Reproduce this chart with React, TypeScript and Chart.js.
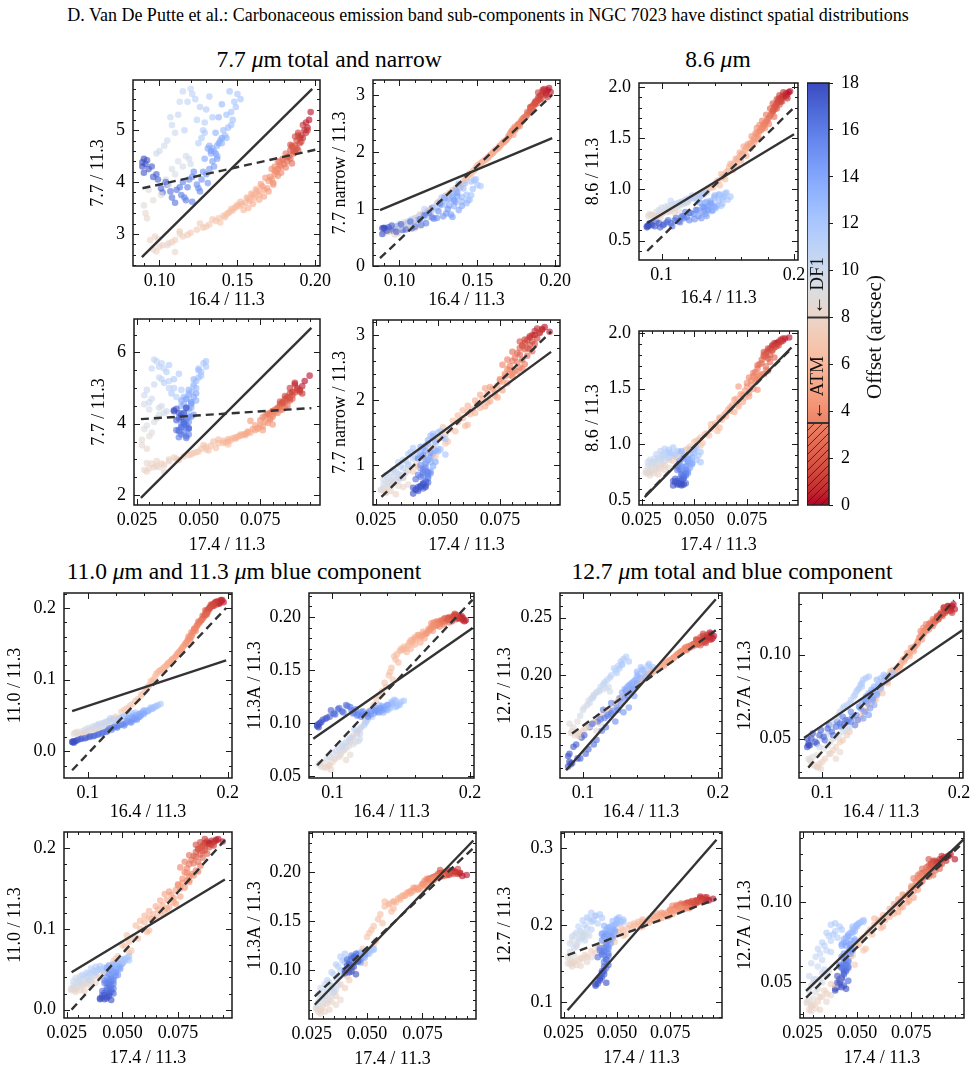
import React, { useEffect, useRef } from 'react';
import { Chart, registerables } from 'chart.js';

Chart.register(...registerables);

const SERIF = "'Liberation Serif', 'Times New Roman', Times, serif";
Chart.defaults.font.family = SERIF;

// ---------------------------------------------------------------------------
// Per-pixel band ratios along the cut, ordered by offset from the ridge (arcsec).
// Two interleaved pixel rows of the slit are listed one after the other.
// ---------------------------------------------------------------------------
const OFFSET = [
  0.2, 0.3, 0.5, 0.6, 0.8, 0.9, 1.0, 1.2, 1.3, 1.4, 1.6, 1.7, 1.8, 1.9,
  2.1, 2.2, 2.4, 2.5, 2.7, 2.8, 3.0, 3.1, 3.3, 3.4, 3.5, 3.6, 3.8, 3.9,
  4.1, 4.2, 4.3, 4.4, 4.6, 4.7, 4.8, 5.0, 5.1, 5.2, 5.3, 5.4, 5.5, 5.7, 5.8, 5.9,
  6.1, 6.2, 6.3, 6.4, 6.6, 6.7, 6.8, 6.9, 7.0, 7.1, 7.2, 7.4, 7.5, 7.6, 7.8, 7.9,
  8.1, 8.2, 8.3, 8.5, 8.6, 8.8, 9.0, 9.2, 9.4, 9.5, 9.7, 9.9,
  10.1, 10.3, 10.4, 10.6, 10.7, 10.9, 11.0, 11.2, 11.3, 11.5, 11.7, 11.9,
  12.1, 12.3, 12.4, 12.6, 12.7, 12.9, 13.0, 13.2, 13.3, 13.5, 13.7, 13.9,
  14.1, 14.3, 14.5, 14.7, 14.9, 15.1, 15.3, 15.5, 15.7, 15.9,
  16.1, 16.3, 16.5, 16.7, 16.9, 17.1, 17.3, 17.5, 17.7, 17.9,
  // second row
  0.1, 0.4, 0.7, 0.9, 1.1, 1.3, 1.5, 1.6, 1.8, 1.9,
  2.0, 2.3, 2.6, 2.9, 3.2, 3.4, 3.5, 3.7, 3.8, 3.9,
  4.0, 4.2, 4.4, 4.5, 4.7, 4.9, 5.0, 5.2, 5.3, 5.5, 5.6, 5.7, 5.8, 5.9,
  6.0, 6.2, 6.3, 6.5, 6.6, 6.8, 6.9, 7.0, 7.1, 7.3, 7.4, 7.6, 7.7, 7.9,
  8.0, 8.2, 8.4, 8.7, 8.9, 9.1, 9.3, 9.6, 9.8, 9.9,
  10.0, 10.2, 10.4, 10.5, 10.8, 11.0, 11.1, 11.3, 11.4, 11.6, 11.8, 11.9,
  12.0, 12.2, 12.3, 12.5, 12.6, 12.8, 12.9, 13.1, 13.2, 13.4, 13.5, 13.6, 13.8, 13.9,
  14.0, 14.2, 14.4, 14.6, 14.8, 15.0, 15.2, 15.3, 15.5, 15.6, 15.8, 15.9,
  16.0, 16.2, 16.4, 16.6, 16.8, 17.0, 17.2, 17.4, 17.5, 17.6, 17.8, 18.0,
];

const R164 = [
  0.197, 0.195, 0.193, 0.194, 0.192, 0.191, 0.190, 0.189, 0.190, 0.188, 0.187, 0.188, 0.186, 0.185,
  0.186, 0.185, 0.184, 0.183, 0.182, 0.181, 0.180, 0.179, 0.178, 0.177, 0.176, 0.177, 0.175, 0.174,
  0.174, 0.172, 0.173, 0.170, 0.169, 0.167, 0.166, 0.164, 0.163, 0.161, 0.160, 0.158, 0.157, 0.155, 0.153, 0.151,
  0.149, 0.147, 0.146, 0.143, 0.141, 0.138, 0.136, 0.132, 0.128, 0.124, 0.120, 0.115, 0.110, 0.106, 0.100, 0.096,
  0.094, 0.110, 0.099, 0.113, 0.091, 0.096, 0.093, 0.104, 0.108, 0.112, 0.117, 0.120,
  0.100, 0.105, 0.108, 0.112, 0.115, 0.118, 0.121, 0.124, 0.126, 0.128, 0.130, 0.127,
  0.150, 0.148, 0.146, 0.147, 0.144, 0.142, 0.140, 0.139, 0.137, 0.135, 0.133, 0.131,
  0.138, 0.136, 0.134, 0.132, 0.130, 0.127, 0.124, 0.121, 0.118, 0.115,
  0.114, 0.111, 0.108, 0.105, 0.102, 0.099, 0.096, 0.093, 0.091, 0.089,
  0.196, 0.194, 0.192, 0.195, 0.189, 0.191, 0.187, 0.189, 0.184, 0.187,
  0.184, 0.182, 0.185, 0.179, 0.181, 0.176, 0.178, 0.174, 0.176, 0.172,
  0.171, 0.173, 0.168, 0.170, 0.165, 0.167, 0.162, 0.164, 0.159, 0.160, 0.156, 0.157, 0.152, 0.154,
  0.150, 0.145, 0.148, 0.142, 0.144, 0.139, 0.134, 0.130, 0.126, 0.118, 0.113, 0.108, 0.102, 0.098,
  0.097, 0.092, 0.105, 0.090, 0.101, 0.106, 0.110, 0.115, 0.119, 0.098,
  0.103, 0.110, 0.113, 0.107, 0.120, 0.116, 0.123, 0.129, 0.125, 0.132, 0.129, 0.134,
  0.152, 0.149, 0.145, 0.146, 0.143, 0.141, 0.143, 0.138, 0.140, 0.136, 0.134, 0.137, 0.132, 0.129,
  0.140, 0.137, 0.133, 0.135, 0.128, 0.131, 0.125, 0.122, 0.126, 0.119, 0.116, 0.121,
  0.117, 0.113, 0.110, 0.107, 0.104, 0.101, 0.098, 0.095, 0.092, 0.090, 0.089, 0.090,
];

const R174 = [
  0.095, 0.092, 0.090, 0.091, 0.089, 0.088, 0.087, 0.090, 0.086, 0.088, 0.085, 0.087, 0.084, 0.086,
  0.083, 0.088, 0.082, 0.086, 0.081, 0.084, 0.080, 0.085, 0.079, 0.083, 0.078, 0.081, 0.080, 0.077,
  0.079, 0.077, 0.075, 0.078, 0.074, 0.072, 0.076, 0.070, 0.073, 0.068, 0.071, 0.066, 0.069, 0.064, 0.062, 0.063,
  0.060, 0.058, 0.061, 0.055, 0.053, 0.051, 0.054, 0.048, 0.046, 0.044, 0.041, 0.038, 0.035, 0.033, 0.030, 0.028,
  0.031, 0.036, 0.029, 0.038, 0.027, 0.030, 0.028, 0.032, 0.034, 0.030, 0.035, 0.037,
  0.030, 0.028, 0.032, 0.034, 0.033, 0.036, 0.035, 0.038, 0.037, 0.040, 0.042, 0.039,
  0.052, 0.050, 0.051, 0.049, 0.048, 0.047, 0.050, 0.046, 0.045, 0.047, 0.044, 0.043,
  0.048, 0.047, 0.046, 0.048, 0.045, 0.046, 0.044, 0.045, 0.043, 0.044,
  0.044, 0.046, 0.043, 0.045, 0.042, 0.044, 0.041, 0.043, 0.040, 0.042,
  0.093, 0.089, 0.092, 0.087, 0.091, 0.085, 0.089, 0.083, 0.087, 0.084,
  0.085, 0.083, 0.080, 0.082, 0.078, 0.084, 0.076, 0.082, 0.079, 0.080,
  0.075, 0.080, 0.071, 0.076, 0.073, 0.069, 0.074, 0.067, 0.070, 0.065, 0.067, 0.062, 0.065, 0.060,
  0.058, 0.062, 0.056, 0.057, 0.052, 0.050, 0.053, 0.047, 0.049, 0.042, 0.040, 0.036, 0.032, 0.029,
  0.033, 0.029, 0.034, 0.027, 0.031, 0.029, 0.033, 0.036, 0.034, 0.028,
  0.031, 0.029, 0.031, 0.035, 0.032, 0.038, 0.034, 0.036, 0.041, 0.038, 0.043, 0.040,
  0.053, 0.051, 0.053, 0.048, 0.050, 0.049, 0.046, 0.048, 0.044, 0.046, 0.049, 0.043, 0.045, 0.047,
  0.049, 0.045, 0.047, 0.044, 0.047, 0.043, 0.045, 0.046, 0.042, 0.044, 0.046, 0.042,
  0.045, 0.043, 0.045, 0.041, 0.044, 0.046, 0.042, 0.044, 0.041, 0.043, 0.040, 0.045,
];

const R77 = [
  5.35, 5.05, 5.00, 4.95, 5.10, 4.90, 4.85, 4.95, 4.75, 4.80, 4.70, 4.65, 4.60, 4.68,
  4.55, 4.70, 4.45, 4.50, 4.40, 4.55, 4.35, 4.45, 4.30, 4.38, 4.25, 4.32, 4.20, 4.22,
  4.15, 4.05, 3.95, 4.02, 3.88, 3.85, 3.92, 3.76, 3.82, 3.70, 3.75, 3.64, 3.68, 3.60, 3.57, 3.54,
  3.52, 3.45, 3.48, 3.38, 3.35, 3.30, 3.25, 3.18, 3.12, 3.08, 3.02, 2.95, 2.88, 2.82, 2.75, 2.70,
  2.88, 2.65, 2.90, 3.00, 3.40, 3.65, 3.85, 4.05, 4.25, 4.40, 4.50, 4.35,
  4.60, 4.80, 5.10, 5.30, 5.75, 5.55, 5.70, 5.20, 5.45, 5.00, 5.40, 4.85,
  5.70, 5.55, 5.35, 5.20, 5.05, 4.90, 5.50, 4.80, 4.70, 4.60, 4.55, 4.65,
  4.75, 4.55, 4.40, 4.25, 4.15, 4.05, 3.95, 4.10, 3.90, 4.00,
  3.75, 3.85, 3.70, 3.95, 3.80, 4.05, 4.10, 4.25, 4.35, 4.30,
  5.20, 5.15, 4.85, 5.00, 4.90, 4.78, 4.88, 4.62, 4.72, 4.58,
  4.62, 4.48, 4.36, 4.42, 4.28, 4.40, 4.18, 4.30, 4.12, 4.25,
  4.10, 3.98, 4.08, 3.82, 3.96, 3.72, 3.86, 3.66, 3.78, 3.58, 3.70, 3.50, 3.62, 3.46,
  3.56, 3.42, 3.50, 3.32, 3.40, 3.22, 3.28, 3.14, 3.20, 2.98, 3.05, 2.84, 2.78, 2.66,
  2.95, 3.30, 2.78, 3.55, 3.75, 3.95, 4.15, 4.30, 4.45, 4.55,
  4.70, 4.95, 5.55, 5.25, 5.80, 5.00, 5.60, 5.15, 4.75, 5.65, 4.95, 5.25,
  5.60, 5.45, 5.75, 5.10, 5.30, 5.00, 4.85, 5.25, 4.75, 4.95, 4.65, 4.50, 4.70, 4.45,
  4.85, 4.45, 4.60, 4.30, 4.20, 3.98, 3.88, 4.20, 3.82, 4.05, 3.70, 3.62,
  3.65, 3.90, 3.60, 3.82, 4.00, 3.88, 4.15, 4.30, 4.42, 4.18, 4.38, 4.45,
];

const R77N = [
  3.05, 3.08, 3.10, 3.03, 3.06, 3.00, 2.98, 2.95, 2.92, 2.90, 2.88, 2.85, 2.83, 2.80,
  2.80, 2.75, 2.72, 2.68, 2.65, 2.62, 2.60, 2.55, 2.52, 2.50, 2.47, 2.45, 2.42, 2.40,
  2.38, 2.36, 2.30, 2.26, 2.22, 2.17, 2.15, 2.10, 2.06, 2.02, 1.98, 1.94, 1.90, 1.86, 1.82, 1.78,
  1.72, 1.66, 1.60, 1.55, 1.48, 1.42, 1.36, 1.28, 1.18, 1.10, 1.00, 0.92, 0.84, 0.76, 0.68, 0.62,
  0.60, 0.66, 0.57, 0.70, 0.62, 0.66, 0.64, 0.72, 0.76, 0.80, 0.84, 0.88,
  0.74, 0.78, 0.82, 0.86, 0.90, 0.95, 0.98, 1.02, 1.06, 1.10, 1.15, 1.20,
  1.42, 1.50, 1.24, 1.35, 1.15, 1.45, 1.21, 1.38, 1.30, 1.05, 1.27, 1.18,
  0.98, 1.12, 0.86, 1.18, 0.92, 1.08, 0.84, 1.02, 0.95, 0.88,
  0.72, 0.80, 0.66, 0.74, 0.63, 0.70, 0.62, 0.68, 0.65, 0.66,
  3.12, 3.00, 3.09, 2.96, 3.04, 2.93, 2.86, 2.90, 2.78, 2.84,
  2.78, 2.70, 2.74, 2.58, 2.62, 2.48, 2.54, 2.44, 2.46, 2.36,
  2.32, 2.40, 2.20, 2.28, 2.12, 2.18, 2.04, 2.08, 1.96, 1.99, 1.88, 1.91, 1.80, 1.84,
  1.76, 1.62, 1.68, 1.52, 1.58, 1.40, 1.33, 1.24, 1.14, 0.97, 0.90, 0.80, 0.72, 0.58,
  0.55, 0.59, 0.68, 0.61, 0.69, 0.74, 0.78, 0.82, 0.86, 0.70,
  0.76, 0.84, 0.88, 0.80, 0.93, 1.00, 1.04, 1.08, 1.12, 1.17, 1.22, 1.26,
  1.40, 1.52, 1.16, 1.48, 1.25, 1.36, 1.10, 1.44, 1.13, 1.33, 1.22, 1.28, 1.06, 1.19,
  1.05, 1.22, 0.90, 1.15, 0.87, 1.00, 0.96, 0.83, 1.10, 0.93, 0.89, 0.85,
  0.75, 0.82, 0.69, 0.78, 0.64, 0.73, 0.60, 0.71, 0.62, 0.67, 0.56, 0.66,
];

const R86 = [
  1.96, 1.93, 1.92, 1.94, 1.90, 1.91, 1.88, 1.89, 1.86, 1.87, 1.84, 1.85, 1.82, 1.80,
  1.80, 1.78, 1.76, 1.74, 1.72, 1.70, 1.68, 1.66, 1.65, 1.63, 1.61, 1.62, 1.58, 1.57,
  1.57, 1.54, 1.52, 1.50, 1.48, 1.45, 1.43, 1.41, 1.38, 1.35, 1.34, 1.31, 1.29, 1.26, 1.24, 1.22,
  1.17, 1.14, 1.12, 1.09, 1.06, 1.03, 1.01, 0.98, 0.95, 0.92, 0.89, 0.86, 0.82, 0.79, 0.76, 0.74,
  0.74, 0.77, 0.72, 0.79, 0.76, 0.78, 0.75, 0.80, 0.82, 0.84, 0.86, 0.88,
  0.82, 0.84, 0.85, 0.86, 0.88, 0.90, 0.91, 0.92, 0.93, 0.90, 0.94, 0.92,
  0.90, 0.96, 0.86, 0.93, 0.95, 0.84, 0.92, 0.80, 0.89, 0.83, 0.87, 0.78,
  0.79, 0.85, 0.74, 0.82, 0.72, 0.80, 0.76, 0.70, 0.78, 0.73,
  0.68, 0.72, 0.64, 0.70, 0.66, 0.63, 0.69, 0.65, 0.67, 0.64,
  1.95, 1.91, 1.95, 1.89, 1.92, 1.86, 1.88, 1.83, 1.84, 1.79,
  1.77, 1.79, 1.71, 1.73, 1.64, 1.67, 1.60, 1.63, 1.59, 1.60,
  1.55, 1.49, 1.52, 1.46, 1.44, 1.40, 1.42, 1.33, 1.36, 1.28, 1.30, 1.23, 1.25, 1.19,
  1.18, 1.15, 1.10, 1.08, 1.04, 1.02, 0.99, 0.96, 0.94, 0.88, 0.85, 0.81, 0.78, 0.75,
  0.73, 0.75, 0.78, 0.74, 0.77, 0.81, 0.83, 0.85, 0.87, 0.80,
  0.83, 0.86, 0.87, 0.89, 0.91, 0.88, 0.94, 0.96, 0.91, 0.95, 0.93, 0.97,
  0.93, 0.97, 0.84, 0.91, 0.95, 0.82, 0.89, 0.86, 0.94, 0.80, 0.88, 0.85, 0.79, 0.87,
  0.83, 0.87, 0.76, 0.80, 0.74, 0.83, 0.71, 0.77, 0.80, 0.73, 0.74, 0.77,
  0.72, 0.69, 0.70, 0.67, 0.68, 0.65, 0.67, 0.64, 0.66, 0.65, 0.63, 0.64,
];

const R110 = [
  0.208, 0.210, 0.209, 0.207, 0.205, 0.208, 0.206, 0.204, 0.203, 0.205, 0.200, 0.202, 0.198, 0.196,
  0.195, 0.193, 0.190, 0.188, 0.185, 0.183, 0.180, 0.178, 0.175, 0.172, 0.170, 0.168, 0.165, 0.162,
  0.160, 0.157, 0.155, 0.151, 0.148, 0.142, 0.140, 0.136, 0.133, 0.129, 0.127, 0.124, 0.121, 0.118, 0.114, 0.112,
  0.108, 0.100, 0.096, 0.090, 0.084, 0.078, 0.073, 0.066, 0.060, 0.055, 0.048, 0.042, 0.037, 0.032, 0.028, 0.025,
  0.024, 0.030, 0.022, 0.033, 0.026, 0.028, 0.027, 0.031, 0.034, 0.036, 0.039, 0.041,
  0.032, 0.035, 0.038, 0.040, 0.042, 0.044, 0.045, 0.047, 0.048, 0.050, 0.052, 0.049,
  0.064, 0.062, 0.060, 0.061, 0.058, 0.056, 0.057, 0.054, 0.052, 0.051, 0.049, 0.047,
  0.050, 0.047, 0.045, 0.043, 0.041, 0.039, 0.037, 0.035, 0.033, 0.031,
  0.028, 0.026, 0.024, 0.022, 0.021, 0.019, 0.018, 0.016, 0.014, 0.013,
  0.211, 0.206, 0.209, 0.211, 0.203, 0.207, 0.201, 0.204, 0.197, 0.199,
  0.192, 0.189, 0.191, 0.181, 0.183, 0.171, 0.176, 0.166, 0.169, 0.160,
  0.154, 0.158, 0.146, 0.150, 0.138, 0.143, 0.131, 0.135, 0.125, 0.128, 0.119, 0.122, 0.113, 0.116,
  0.110, 0.098, 0.104, 0.088, 0.092, 0.080, 0.070, 0.063, 0.058, 0.046, 0.040, 0.035, 0.030, 0.026,
  0.023, 0.025, 0.031, 0.024, 0.029, 0.032, 0.035, 0.038, 0.040, 0.030,
  0.034, 0.039, 0.041, 0.037, 0.043, 0.046, 0.046, 0.051, 0.048, 0.053, 0.050, 0.054,
  0.066, 0.063, 0.061, 0.059, 0.057, 0.055, 0.056, 0.053, 0.055, 0.050, 0.050, 0.052, 0.048, 0.046,
  0.052, 0.048, 0.046, 0.044, 0.042, 0.040, 0.038, 0.036, 0.036, 0.034, 0.032, 0.033,
  0.030, 0.027, 0.025, 0.023, 0.021, 0.020, 0.018, 0.017, 0.015, 0.014, 0.013, 0.012,
];

const R113A = [
  0.197, 0.199, 0.200, 0.198, 0.201, 0.199, 0.202, 0.200, 0.198, 0.201, 0.199, 0.200, 0.197, 0.198,
  0.199, 0.200, 0.198, 0.197, 0.196, 0.198, 0.195, 0.196, 0.194, 0.195, 0.193, 0.194, 0.192, 0.193,
  0.191, 0.190, 0.187, 0.189, 0.185, 0.184, 0.186, 0.181, 0.183, 0.179, 0.181, 0.176, 0.178, 0.173, 0.170, 0.169,
  0.168, 0.165, 0.160, 0.152, 0.145, 0.138, 0.130, 0.122, 0.112, 0.102, 0.094, 0.086, 0.078, 0.070, 0.063, 0.058,
  0.058, 0.065, 0.056, 0.070, 0.062, 0.066, 0.063, 0.070, 0.074, 0.078, 0.082, 0.085,
  0.072, 0.076, 0.080, 0.084, 0.088, 0.092, 0.096, 0.100, 0.104, 0.108, 0.112, 0.110,
  0.120, 0.118, 0.121, 0.116, 0.119, 0.114, 0.117, 0.113, 0.115, 0.111, 0.112, 0.110,
  0.115, 0.112, 0.110, 0.113, 0.109, 0.111, 0.108, 0.110, 0.107, 0.109,
  0.112, 0.116, 0.110, 0.114, 0.108, 0.112, 0.105, 0.103, 0.100, 0.098,
  0.196, 0.201, 0.199, 0.197, 0.203, 0.200, 0.198, 0.202, 0.199, 0.196,
  0.198, 0.199, 0.195, 0.197, 0.193, 0.196, 0.191, 0.195, 0.192, 0.194,
  0.188, 0.192, 0.184, 0.187, 0.182, 0.180, 0.183, 0.176, 0.179, 0.174, 0.176, 0.170, 0.172, 0.167,
  0.170, 0.163, 0.157, 0.148, 0.141, 0.134, 0.126, 0.117, 0.107, 0.090, 0.082, 0.074, 0.066, 0.060,
  0.060, 0.059, 0.068, 0.061, 0.067, 0.072, 0.076, 0.080, 0.083, 0.068,
  0.074, 0.082, 0.086, 0.078, 0.090, 0.094, 0.098, 0.106, 0.102, 0.114, 0.109, 0.117,
  0.121, 0.117, 0.122, 0.115, 0.120, 0.116, 0.118, 0.114, 0.112, 0.116, 0.113, 0.110, 0.114, 0.111,
  0.117, 0.113, 0.111, 0.114, 0.108, 0.112, 0.109, 0.111, 0.106, 0.108, 0.110, 0.106,
  0.113, 0.115, 0.117, 0.111, 0.113, 0.109, 0.106, 0.104, 0.101, 0.099, 0.097, 0.096,
];

const R127 = [
  0.234, 0.236, 0.233, 0.231, 0.235, 0.230, 0.232, 0.234, 0.229, 0.231, 0.230, 0.228, 0.229, 0.227,
  0.229, 0.230, 0.228, 0.226, 0.227, 0.225, 0.226, 0.224, 0.225, 0.223, 0.224, 0.222, 0.223, 0.221,
  0.221, 0.219, 0.220, 0.218, 0.217, 0.215, 0.214, 0.213, 0.212, 0.211, 0.209, 0.208, 0.207, 0.205, 0.204, 0.202,
  0.201, 0.199, 0.197, 0.196, 0.193, 0.190, 0.188, 0.184, 0.180, 0.176, 0.171, 0.166, 0.161, 0.157, 0.152, 0.149,
  0.148, 0.152, 0.146, 0.158, 0.150, 0.160, 0.155, 0.178, 0.183, 0.187, 0.189, 0.186,
  0.170, 0.176, 0.182, 0.186, 0.192, 0.196, 0.200, 0.204, 0.208, 0.212, 0.214, 0.206,
  0.205, 0.208, 0.202, 0.200, 0.205, 0.198, 0.203, 0.196, 0.194, 0.192, 0.190, 0.188,
  0.182, 0.190, 0.172, 0.186, 0.168, 0.180, 0.160, 0.176, 0.165, 0.170,
  0.152, 0.160, 0.140, 0.155, 0.132, 0.146, 0.128, 0.138, 0.123, 0.130,
  0.232, 0.237, 0.233, 0.231, 0.236, 0.228, 0.233, 0.229, 0.231, 0.226,
  0.231, 0.227, 0.228, 0.224, 0.226, 0.222, 0.225, 0.221, 0.224, 0.220,
  0.219, 0.221, 0.216, 0.218, 0.213, 0.215, 0.211, 0.212, 0.209, 0.208, 0.206, 0.207, 0.203, 0.204,
  0.202, 0.198, 0.200, 0.195, 0.196, 0.191, 0.186, 0.182, 0.178, 0.169, 0.164, 0.159, 0.154, 0.150,
  0.147, 0.152, 0.156, 0.158, 0.172, 0.180, 0.185, 0.188, 0.190, 0.165,
  0.174, 0.185, 0.190, 0.180, 0.198, 0.194, 0.206, 0.210, 0.202, 0.216, 0.209, 0.212,
  0.207, 0.210, 0.204, 0.199, 0.207, 0.201, 0.197, 0.195, 0.199, 0.193, 0.191, 0.189, 0.187, 0.185,
  0.193, 0.188, 0.182, 0.185, 0.176, 0.180, 0.172, 0.169, 0.170, 0.166, 0.163, 0.167,
  0.155, 0.162, 0.144, 0.158, 0.136, 0.148, 0.128, 0.140, 0.124, 0.132, 0.121, 0.125,
];

const R127A = [
  0.127, 0.129, 0.128, 0.126, 0.129, 0.127, 0.125, 0.128, 0.126, 0.124, 0.125, 0.123, 0.124, 0.122,
  0.123, 0.121, 0.122, 0.120, 0.119, 0.121, 0.118, 0.117, 0.118, 0.116, 0.115, 0.116, 0.114, 0.113,
  0.112, 0.111, 0.109, 0.108, 0.106, 0.104, 0.103, 0.101, 0.100, 0.098, 0.097, 0.095, 0.094, 0.092, 0.090, 0.089,
  0.088, 0.086, 0.084, 0.081, 0.078, 0.074, 0.071, 0.067, 0.063, 0.058, 0.054, 0.049, 0.045, 0.041, 0.036, 0.033,
  0.034, 0.038, 0.032, 0.042, 0.037, 0.040, 0.039, 0.046, 0.050, 0.052, 0.055, 0.057,
  0.050, 0.054, 0.060, 0.064, 0.068, 0.070, 0.073, 0.076, 0.079, 0.082, 0.085, 0.080,
  0.088, 0.086, 0.087, 0.084, 0.083, 0.081, 0.085, 0.079, 0.078, 0.076, 0.075, 0.073,
  0.070, 0.074, 0.064, 0.072, 0.062, 0.069, 0.058, 0.066, 0.060, 0.063,
  0.057, 0.060, 0.052, 0.058, 0.049, 0.055, 0.047, 0.053, 0.046, 0.050,
  0.130, 0.127, 0.129, 0.125, 0.128, 0.126, 0.124, 0.127, 0.123, 0.124,
  0.122, 0.120, 0.121, 0.119, 0.117, 0.118, 0.115, 0.116, 0.114, 0.114,
  0.110, 0.113, 0.105, 0.107, 0.104, 0.102, 0.101, 0.099, 0.097, 0.096, 0.093, 0.092, 0.091, 0.089,
  0.090, 0.085, 0.083, 0.080, 0.077, 0.073, 0.070, 0.066, 0.061, 0.052, 0.048, 0.043, 0.038, 0.035,
  0.033, 0.036, 0.041, 0.038, 0.044, 0.048, 0.051, 0.054, 0.056, 0.045,
  0.052, 0.062, 0.066, 0.058, 0.071, 0.069, 0.075, 0.081, 0.078, 0.086, 0.083, 0.087,
  0.089, 0.087, 0.088, 0.085, 0.086, 0.082, 0.080, 0.081, 0.077, 0.079, 0.077, 0.074, 0.075, 0.072,
  0.076, 0.073, 0.071, 0.068, 0.068, 0.066, 0.064, 0.063, 0.061, 0.061, 0.059, 0.060,
  0.061, 0.059, 0.057, 0.054, 0.056, 0.051, 0.052, 0.048, 0.050, 0.047, 0.045, 0.046,
];

// Linear fits per panel, [x0, y0, x1, y1]; panel order as in PANELS below
const SOLID_FITS = [
  [0.0887, 2.55, 0.198, 5.80],
  [0.0875, 0.98, 0.198, 2.24],
  [0.0892, 0.673, 0.2, 1.54],
  [0.0266, 1.92, 0.0957, 6.69],
  [0.0272, 0.82, 0.0956, 2.74],
  [0.0265, 0.525, 0.0961, 1.87],
  [0.0888, 0.056, 0.1988, 0.127],
  [0.0861, 0.0851, 0.202, 0.1896],
  [0.0875, 0.1177, 0.1984, 0.2659],
  [0.0867, 0.0504, 0.2025, 0.1145],
  [0.0272, 0.0463, 0.096, 0.161],
  [0.0264, 0.0651, 0.098, 0.2321],
  [0.0269, 0.0892, 0.0966, 0.3108],
  [0.0266, 0.0448, 0.0989, 0.1392],
];

const DASHED_FITS = [
  [0.0891, 3.88, 0.2025, 4.64],
  [0.0875, 0.136, 0.198, 3.0],
  [0.0892, 0.399, 0.2, 1.80],
  [0.0266, 4.13, 0.0957, 4.44],
  [0.0272, 0.51, 0.0956, 3.05],
  [0.027, 0.545, 0.0961, 1.86],
  [0.0888, -0.0266, 0.1988, 0.2],
  [0.089, 0.0601, 0.202, 0.2164],
  [0.0919, 0.1495, 0.1984, 0.239],
  [0.0898, 0.0327, 0.1964, 0.1323],
  [0.0272, 0.0, 0.096, 0.2097],
  [0.0264, 0.0736, 0.098, 0.2244],
  [0.0269, 0.1609, 0.0966, 0.2339],
  [0.0266, 0.0405, 0.0975, 0.1357],
];

// Tick values and labels
const X164_TICKS_FINE = [0.1, 0.15, 0.2];
const X164_LABELS_FINE = ['0.10', '0.15', '0.20'];
const X164_TICKS = [0.1, 0.2];
const X164_LABELS = ['0.1', '0.2'];
const X174_TICKS = [0.025, 0.05, 0.075];
const X174_LABELS = ['0.025', '0.050', '0.075'];

const Y_TICKS_77 = [3, 4, 5];
const Y_LABELS_77 = ['3', '4', '5'];
const Y_TICKS_77N = [0, 1, 2, 3];
const Y_LABELS_77N = ['0', '1', '2', '3'];
const Y_TICKS_86 = [0.5, 1.0, 1.5, 2.0];
const Y_LABELS_86 = ['0.5', '1.0', '1.5', '2.0'];
const Y_TICKS_77_B = [2, 4, 6];
const Y_LABELS_77_B = ['2', '4', '6'];
const Y_TICKS_77N_B = [1, 2, 3];
const Y_LABELS_77N_B = ['1', '2', '3'];
const Y_TICKS_110 = [0.0, 0.1, 0.2];
const Y_LABELS_110 = ['0.0', '0.1', '0.2'];
const Y_TICKS_113A = [0.05, 0.1, 0.15, 0.2];
const Y_LABELS_113A = ['0.05', '0.10', '0.15', '0.20'];
const Y_TICKS_113A_B = [0.1, 0.15, 0.2];
const Y_LABELS_113A_B = ['0.10', '0.15', '0.20'];
const Y_TICKS_127 = [0.15, 0.2, 0.25];
const Y_LABELS_127 = ['0.15', '0.20', '0.25'];
const Y_TICKS_127_B = [0.1, 0.2, 0.3];
const Y_LABELS_127_B = ['0.1', '0.2', '0.3'];
const Y_TICKS_127A = [0.05, 0.1];
const Y_LABELS_127A = ['0.05', '0.10'];

const CB_TICKS = [0, 2, 4, 6, 8, 10, 12, 14, 16, 18];
const CB_LABELS = ['0', '2', '4', '6', '8', '10', '12', '14', '16', '18'];
const ATM_EDGE = 3.5;
const DF1_EDGE = 8;

// ---------------------------------------------------------------------------
// Styling / layout
// ---------------------------------------------------------------------------
const FS = 18;
const LH = FS * 1.2;
const AX_L = 80;
const PAD_T = 16;
const PAD_R = 28;
const AX_B = 58;
const FIT_COLOR = '#333333';
const POINT_ALPHA = 0.62;

const X164_RANGE = [0.083, 0.203];
const X174_RANGE = [0.0238, 0.0992];

// coolwarm colour table (33 stops)
const COOLWARM = [
  [59, 76, 192], [68, 90, 204], [77, 104, 215], [87, 117, 225], [98, 130, 234],
  [108, 142, 241], [119, 154, 247], [130, 165, 251], [141, 176, 254], [152, 185, 255],
  [163, 194, 255], [174, 201, 253], [184, 208, 249], [194, 213, 244], [204, 217, 238],
  [213, 219, 230], [221, 221, 221], [229, 216, 209], [236, 211, 197], [241, 204, 184],
  [245, 196, 172], [247, 187, 160], [247, 177, 148], [247, 166, 135], [244, 154, 123],
  [241, 141, 111], [236, 127, 99], [229, 112, 88], [222, 96, 77], [213, 80, 66],
  [203, 62, 56], [192, 40, 47], [180, 4, 38],
];

function coolwarm(t: number) {
  const c = Math.min(1, Math.max(0, t)) * (COOLWARM.length - 1);
  const i = Math.min(COOLWARM.length - 2, Math.floor(c));
  const f = c - i;
  const a = COOLWARM[i];
  const b = COOLWARM[i + 1];
  return [0, 1, 2].map((k) => Math.round(a[k] + (b[k] - a[k]) * f));
}

// reversed map: offset 0 -> red, offset 18 -> blue
function offsetColor(off: number, alpha: number) {
  const [r, g, b] = coolwarm(1 - off / 18);
  return `rgba(${r},${g},${b},${alpha})`;
}

type PanelSpec = {
  box: number[];
  xs: number[];
  ys: number[];
  xRange: number[];
  yRange: number[];
  xTicks: number[];
  xLabels: string[];
  xMinor: number;
  yTicks: number[];
  yLabels: string[];
  yMinor: number;
  xTitle: string;
  yTitle: string;
  yOff: number;
  xOff: number;
  fit: number;
};

const PANELS: PanelSpec[] = [
  { box: [133, 80, 187, 186], xs: R164, ys: R77, xRange: X164_RANGE, yRange: [2.38, 5.97], xTicks: X164_TICKS_FINE, xLabels: X164_LABELS_FINE, xMinor: 0.01, yTicks: Y_TICKS_77, yLabels: Y_LABELS_77, yMinor: 0.2, xTitle: '16.4 / 11.3', yTitle: '7.7 / 11.3', yOff: 35, xOff: 34, fit: 0 },
  { box: [373, 80, 187, 186], xs: R164, ys: R77N, xRange: X164_RANGE, yRange: [0.0, 3.26], xTicks: X164_TICKS_FINE, xLabels: X164_LABELS_FINE, xMinor: 0.01, yTicks: Y_TICKS_77N, yLabels: Y_LABELS_77N, yMinor: 0.2, xTitle: '16.4 / 11.3', yTitle: '7.7 narrow / 11.3', yOff: 33, xOff: 34, fit: 1 },
  { box: [639, 83, 159, 177], xs: R164, ys: R86, xRange: X164_RANGE, yRange: [0.311, 2.04], xTicks: X164_TICKS, xLabels: X164_LABELS, xMinor: 0.02, yTicks: Y_TICKS_86, yLabels: Y_LABELS_86, yMinor: 0.1, xTitle: '16.4 / 11.3', yTitle: '8.6 / 11.3', yOff: 46, xOff: 38, fit: 2 },
  { box: [134, 319, 186, 186], xs: R174, ys: R77, xRange: X174_RANGE, yRange: [1.72, 6.94], xTicks: X174_TICKS, xLabels: X174_LABELS, xMinor: 0.005, yTicks: Y_TICKS_77_B, yLabels: Y_LABELS_77_B, yMinor: 0.5, xTitle: '17.4 / 11.3', yTitle: '7.7 / 11.3', yOff: 35, xOff: 40, fit: 3 },
  { box: [373, 320, 187, 185], xs: R174, ys: R77N, xRange: X174_RANGE, yRange: [0.385, 3.23], xTicks: X174_TICKS, xLabels: X174_LABELS, xMinor: 0.005, yTicks: Y_TICKS_77N_B, yLabels: Y_LABELS_77N_B, yMinor: 0.2, xTitle: '17.4 / 11.3', yTitle: '7.7 narrow / 11.3', yOff: 33, xOff: 40, fit: 4 },
  { box: [639, 331, 159, 174], xs: R174, ys: R86, xRange: X174_RANGE, yRange: [0.455, 2.018], xTicks: X174_TICKS, xLabels: X174_LABELS, xMinor: 0.005, yTicks: Y_TICKS_86, yLabels: Y_LABELS_86, yMinor: 0.1, xTitle: '17.4 / 11.3', yTitle: '8.6 / 11.3', yOff: 46, xOff: 40, fit: 5 },
  { box: [64, 593, 168, 185], xs: R164, ys: R110, xRange: X164_RANGE, yRange: [-0.0374, 0.221], xTicks: X164_TICKS, xLabels: X164_LABELS, xMinor: 0.02, yTicks: Y_TICKS_110, yLabels: Y_LABELS_110, yMinor: 0.02, xTitle: '16.4 / 11.3', yTitle: '11.0 / 11.3', yOff: 49, xOff: 34, fit: 6 },
  { box: [309, 593, 165, 185], xs: R164, ys: R113A, xRange: X164_RANGE, yRange: [0.0481, 0.2227], xTicks: X164_TICKS, xLabels: X164_LABELS, xMinor: 0.02, yTicks: Y_TICKS_113A, yLabels: Y_LABELS_113A, yMinor: 0.01, xTitle: '16.4 / 11.3', yTitle: '11.3A / 11.3', yOff: 54, xOff: 34, fit: 7 },
  { box: [560, 593, 162, 185], xs: R164, ys: R127, xRange: X164_RANGE, yRange: [0.111, 0.2713], xTicks: X164_TICKS, xLabels: X164_LABELS, xMinor: 0.02, yTicks: Y_TICKS_127, yLabels: Y_LABELS_127, yMinor: 0.01, xTitle: '16.4 / 11.3', yTitle: '12.7 / 11.3', yOff: 55, xOff: 34, fit: 8 },
  { box: [799, 593, 164, 185], xs: R164, ys: R127A, xRange: X164_RANGE, yRange: [0.0265, 0.1367], xTicks: X164_TICKS, xLabels: X164_LABELS, xMinor: 0.02, yTicks: Y_TICKS_127A, yLabels: Y_LABELS_127A, yMinor: 0.01, xTitle: '16.4 / 11.3', yTitle: '12.7A / 11.3', yOff: 54, xOff: 34, fit: 9 },
  { box: [64, 832, 168, 186], xs: R174, ys: R110, xRange: X174_RANGE, yRange: [-0.0103, 0.2198], xTicks: X174_TICKS, xLabels: X174_LABELS, xMinor: 0.005, yTicks: Y_TICKS_110, yLabels: Y_LABELS_110, yMinor: 0.02, xTitle: '17.4 / 11.3', yTitle: '11.0 / 11.3', yOff: 49, xOff: 40, fit: 10 },
  { box: [309, 832, 167, 187], xs: R174, ys: R113A, xRange: X174_RANGE, yRange: [0.0506, 0.2407], xTicks: X174_TICKS, xLabels: X174_LABELS, xMinor: 0.005, yTicks: Y_TICKS_113A_B, yLabels: Y_LABELS_113A_B, yMinor: 0.01, xTitle: '17.4 / 11.3', yTitle: '11.3A / 11.3', yOff: 54, xOff: 40, fit: 11 },
  { box: [561, 832, 161, 186], xs: R174, ys: R127, xRange: X174_RANGE, yRange: [0.0791, 0.3209], xTicks: X174_TICKS, xLabels: X174_LABELS, xMinor: 0.005, yTicks: Y_TICKS_127_B, yLabels: Y_LABELS_127_B, yMinor: 0.02, xTitle: '17.4 / 11.3', yTitle: '12.7 / 11.3', yOff: 56, xOff: 40, fit: 12 },
  { box: [800, 832, 164, 186], xs: R174, ys: R127A, xRange: X174_RANGE, yRange: [0.0278, 0.144], xTicks: X174_TICKS, xLabels: X174_LABELS, xMinor: 0.005, yTicks: Y_TICKS_127A, yLabels: Y_LABELS_127A, yMinor: 0.01, xTitle: '17.4 / 11.3', yTitle: '12.7A / 11.3', yOff: 55, xOff: 40, fit: 13 },
];

// Inward major/minor ticks on all four sides, plus the axes frame
const frameTicks = {
  id: 'frameTicks',
  afterDatasetsDraw(chart: any, _args: any, opts: any) {
    const { ctx, chartArea: a, scales } = chart;
    const marks = (scale: any, major: number[], step: number) => {
      const out: number[][] = [];
      const k0 = Math.ceil(scale.min / step - 1e-6);
      for (let k = k0; k * step <= scale.max + step * 1e-6; k++) {
        const v = k * step;
        const isMajor = major.some((m) => Math.abs(m - v) < step * 1e-3);
        out.push([scale.getPixelForValue(v), isMajor ? 6 : 3]);
      }
      return out;
    };
    ctx.save();
    ctx.strokeStyle = '#1a1a1a';
    ctx.lineWidth = 1;
    ctx.beginPath();
    for (const [p, len] of marks(scales.x, opts.xMajor, opts.xMinor)) {
      const px = Math.round(p) + 0.5;
      ctx.moveTo(px, a.bottom);
      ctx.lineTo(px, a.bottom - len);
      ctx.moveTo(px, a.top);
      ctx.lineTo(px, a.top + len);
    }
    for (const [p, len] of marks(scales.y, opts.yMajor, opts.yMinor)) {
      const py = Math.round(p) + 0.5;
      ctx.moveTo(a.left, py);
      ctx.lineTo(a.left + len, py);
      ctx.moveTo(a.right, py);
      ctx.lineTo(a.right - len, py);
    }
    ctx.stroke();
    ctx.lineWidth = 1.5;
    ctx.strokeRect(a.left, a.top, a.right - a.left, a.bottom - a.top);
    ctx.restore();
  },
};

function Panel({ spec }: { spec: PanelSpec }) {
  const ref = useRef<HTMLCanvasElement>(null);
  const [l, t, w, h] = spec.box;
  const W = w + AX_L + PAD_R;
  const H = h + PAD_T + AX_B;

  useEffect(() => {
    const font = { family: SERIF, size: FS };
    const colors = OFFSET.map((o) => offsetColor(o, POINT_ALPHA));
    const pts = spec.xs.map((x, i) => ({ x, y: spec.ys[i] }));
    const fitSet = (f: number[], dashed: boolean) => ({
      data: [{ x: f[0], y: f[1] }, { x: f[2], y: f[3] }],
      showLine: true,
      borderColor: FIT_COLOR,
      borderWidth: 2.4,
      borderDash: dashed ? [8, 5] : [],
      pointRadius: 0,
      order: 0,
    });
    const chart = new Chart(ref.current as HTMLCanvasElement, {
      type: 'scatter',
      data: {
        datasets: [
          fitSet(SOLID_FITS[spec.fit], false),
          fitSet(DASHED_FITS[spec.fit], true),
          {
            data: pts,
            pointRadius: 3.3,
            pointBackgroundColor: colors,
            pointBorderWidth: 0,
            pointBorderColor: 'rgba(0,0,0,0)',
            order: 1,
          },
        ],
      } as any,
      options: {
        animation: false,
        responsive: false,
        events: [],
        layout: { padding: { top: PAD_T, right: PAD_R, left: 0, bottom: 0 } },
        plugins: {
          legend: { display: false },
          tooltip: { enabled: false },
          frameTicks: { xMajor: spec.xTicks, xMinor: spec.xMinor, yMajor: spec.yTicks, yMinor: spec.yMinor },
        } as any,
        scales: {
          x: {
            type: 'linear',
            min: spec.xRange[0],
            max: spec.xRange[1],
            afterBuildTicks: (s: any) => { s.ticks = spec.xTicks.map((v) => ({ value: v })); },
            afterFit: (s: any) => { s.height = AX_B; s.paddingLeft = 0; s.paddingRight = 0; },
            grid: { display: false, drawTicks: false },
            border: { display: false },
            ticks: { autoSkip: false, maxRotation: 0, padding: 4, color: '#000', font, callback: (_v: any, i: number) => spec.xLabels[i] },
            title: { display: true, text: spec.xTitle, color: '#000', font, padding: { top: 0, bottom: AX_B - spec.xOff - LH / 2 } },
          },
          y: {
            type: 'linear',
            min: spec.yRange[0],
            max: spec.yRange[1],
            afterBuildTicks: (s: any) => { s.ticks = spec.yTicks.map((v) => ({ value: v })); },
            afterFit: (s: any) => { s.width = AX_L; s.paddingTop = 0; s.paddingBottom = 0; },
            grid: { display: false, drawTicks: false },
            border: { display: false },
            ticks: { autoSkip: false, padding: 8, color: '#000', font, callback: (_v: any, i: number) => spec.yLabels[i] },
            title: { display: true, text: spec.yTitle, color: '#000', font, padding: { top: AX_L - spec.yOff - LH / 2, bottom: 0 } },
          },
        } as any,
      },
      plugins: [frameTicks],
    });
    return () => chart.destroy();
  }, [spec]);

  return (
    <canvas
      ref={ref}
      width={W}
      height={H}
      style={{ position: 'absolute', left: l - AX_L, top: t - PAD_T, width: W, height: H }}
    />
  );
}

// Colour bar geometry
const CB_BOX = [807, 83, 22, 422];
const CB_PAD = 14;
const CB_AXIS_W = 100;

const colorbarDecor = {
  id: 'colorbarDecor',
  afterDatasetsDraw(chart: any) {
    const { ctx, chartArea: a, scales } = chart;
    const y = scales.y;
    const yAtm = y.getPixelForValue(ATM_EDGE);
    const yDf1 = y.getPixelForValue(DF1_EDGE);
    const cx = (a.left + a.right) / 2;

    // hatching of the inner region
    ctx.save();
    ctx.beginPath();
    ctx.rect(a.left, yAtm, a.right - a.left, a.bottom - yAtm);
    ctx.clip();
    ctx.strokeStyle = 'rgba(35,35,35,0.85)';
    ctx.lineWidth = 1;
    ctx.beginPath();
    const hh = a.bottom - yAtm;
    for (let s = -hh; s < a.right - a.left + hh; s += 8) {
      ctx.moveTo(a.left + s, a.bottom);
      ctx.lineTo(a.left + s + hh, a.bottom - hh);
    }
    ctx.stroke();
    ctx.restore();

    // region boundaries
    ctx.save();
    ctx.strokeStyle = '#333';
    ctx.lineWidth = 2;
    ctx.beginPath();
    ctx.moveTo(a.left, yAtm);
    ctx.lineTo(a.right, yAtm);
    ctx.moveTo(a.left, yDf1);
    ctx.lineTo(a.right, yDf1);
    ctx.stroke();

    const vText = (text: string, x: number, yy: number, align: CanvasTextAlign, size: number) => {
      ctx.save();
      ctx.translate(x, yy);
      ctx.rotate(-Math.PI / 2);
      ctx.font = `${size}px ${SERIF}`;
      ctx.fillStyle = '#111';
      ctx.textAlign = align;
      ctx.textBaseline = 'middle';
      ctx.fillText(text, 0, 0);
      ctx.restore();
    };
    vText('\u2190 DF1', cx, yDf1 - 3, 'left', 19);
    vText('\u2190 ATM', cx, yAtm - 3, 'left', 19);

    ctx.lineWidth = 1.5;
    ctx.strokeStyle = '#1a1a1a';
    ctx.strokeRect(a.left, a.top, a.right - a.left, a.bottom - a.top);
    ctx.restore();

    // axis label
    vText('Offset (arcsec)', 875 - CB_BOX[0], 337 - (CB_BOX[1] - CB_PAD), 'center', 21);
  },
};

function ColorBar() {
  const ref = useRef<HTMLCanvasElement>(null);
  const W = CB_BOX[2] + CB_AXIS_W;
  const H = CB_BOX[3] + 2 * CB_PAD;

  useEffect(() => {
    const chart = new Chart(ref.current as HTMLCanvasElement, {
      type: 'bar',
      data: {
        labels: [''],
        datasets: [
          {
            data: [18],
            borderWidth: 0,
            barPercentage: 1,
            categoryPercentage: 1,
            backgroundColor: (c: any) => {
              const { ctx, chartArea } = c.chart;
              if (!chartArea) return '#ddd';
              const g = ctx.createLinearGradient(0, chartArea.top, 0, chartArea.bottom);
              COOLWARM.forEach((col, i) => g.addColorStop(i / (COOLWARM.length - 1), `rgb(${col[0]},${col[1]},${col[2]})`));
              return g;
            },
          },
        ],
      } as any,
      options: {
        animation: false,
        responsive: false,
        events: [],
        layout: { padding: { top: CB_PAD, bottom: CB_PAD, left: 0, right: 0 } },
        plugins: { legend: { display: false }, tooltip: { enabled: false } },
        scales: {
          x: { display: false },
          y: {
            position: 'right',
            min: 0,
            max: 18,
            afterBuildTicks: (s: any) => { s.ticks = CB_TICKS.map((v) => ({ value: v })); },
            afterFit: (s: any) => { s.width = CB_AXIS_W; s.paddingTop = 0; s.paddingBottom = 0; },
            grid: { drawOnChartArea: false, drawTicks: true, tickLength: 4, color: '#1a1a1a', lineWidth: 1 },
            border: { display: false },
            ticks: { autoSkip: false, padding: 8, color: '#000', font: { family: SERIF, size: FS }, callback: (_v: any, i: number) => CB_LABELS[i] },
          },
        } as any,
      },
      plugins: [colorbarDecor],
    });
    return () => chart.destroy();
  }, []);

  return (
    <canvas
      ref={ref}
      width={W}
      height={H}
      style={{ position: 'absolute', left: CB_BOX[0], top: CB_BOX[1] - CB_PAD, width: W, height: H }}
    />
  );
}

function Heading({ x, y, size, children }: { x: number; y: number; size: number; children: React.ReactNode }) {
  return (
    <div
      style={{
        position: 'absolute',
        left: x,
        top: y,
        transform: 'translate(-50%, -50%)',
        fontSize: size,
        lineHeight: 1,
        whiteSpace: 'nowrap',
        fontFamily: SERIF,
        color: '#000',
      }}
    >
      {children}
    </div>
  );
}

const Mu = () => <span style={{ fontStyle: 'italic' }}>μ</span>;

export default function App() {
  return (
    <div style={{ position: 'absolute', left: 0, top: 0, width: 976, height: 1075, background: '#fff', overflow: 'hidden' }}>
      <Heading x={488} y={15} size={18}>
        D. Van De Putte et al.: Carbonaceous emission band sub-components in NGC 7023 have distinct spatial distributions
      </Heading>
      <Heading x={329} y={60} size={23.5}>7.7 <Mu />m total and narrow</Heading>
      <Heading x={718} y={60} size={23.5}>8.6 <Mu />m</Heading>
      <Heading x={244} y={572} size={23.5}>11.0 <Mu />m and 11.3 <Mu />m blue component</Heading>
      <Heading x={732} y={572} size={23.5}>12.7 <Mu />m total and blue component</Heading>
      {PANELS.map((p, i) => (
        <Panel key={i} spec={p} />
      ))}
      <ColorBar />
    </div>
  );
}
